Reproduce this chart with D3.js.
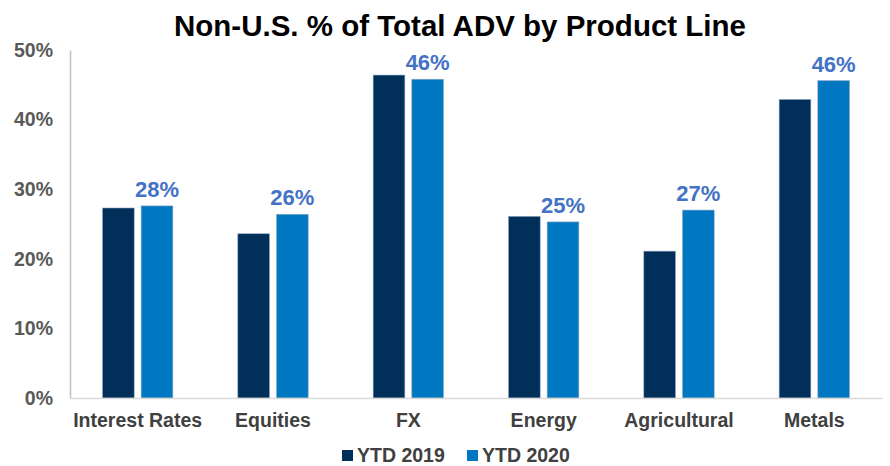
<!DOCTYPE html>
<html>
<head>
<meta charset="utf-8">
<script src="https://cdn.jsdelivr.net/npm/d3@7"></script>
<style>
  body { margin: 0; background: #fff; }
  svg { font-family: "Liberation Sans", Arial, sans-serif; font-weight: bold; }
</style>
</head>
<body>
<div id="chart"></div>
<script>
const width = 890;
const height = 466;

const categories = ["Interest Rates", "Equities", "FX", "Energy", "Agricultural", "Metals"];
const seriesNames = ["YTD 2019", "YTD 2020"];
const ytd2019 = [0.273, 0.236, 0.464, 0.261, 0.211, 0.429];
const ytd2020 = [0.276, 0.264, 0.458, 0.253, 0.270, 0.456];
const labels2020 = ["28%", "26%", "46%", "25%", "27%", "46%"];
const yTicks = [0, 0.1, 0.2, 0.3, 0.4, 0.5];

const colors = ["#00305A", "#0078C1"];

const margin = { top: 50, right: 8, bottom: 68, left: 70 };

const data = categories.map((c, i) => ({
  cat: c,
  values: [ytd2019[i], ytd2020[i]],
  label: labels2020[i]
}));

const svg = d3.select("#chart").append("svg")
  .attr("width", width)
  .attr("height", height);

const x0 = d3.scaleBand()
  .domain(categories)
  .range([margin.left, width - margin.right])
  .paddingInner(0.48)
  .paddingOuter(0.24);

const x1 = d3.scaleBand()
  .domain(seriesNames)
  .range([0, x0.bandwidth()])
  .paddingInner(0.18);

const y = d3.scaleLinear()
  .domain([0, 0.5])
  .range([height - margin.bottom, margin.top]);

// title
svg.append("text")
  .attr("x", 460)
  .attr("y", 36)
  .attr("text-anchor", "middle")
  .attr("font-size", 29.5)
  .attr("fill", "#000")
  .text("Non-U.S. % of Total ADV by Product Line");

// y axis
const yAxis = svg.append("g")
  .attr("transform", `translate(${margin.left},0)`)
  .call(d3.axisLeft(y).tickValues(yTicks).tickFormat(d3.format(".0%")).tickSize(0).tickPadding(17));
yAxis.select(".domain").attr("stroke", "#BFBFBF").attr("stroke-width", 1.5);
yAxis.selectAll("text")
  .attr("font-size", 19.5)
  .attr("font-family", "Liberation Sans, Arial, sans-serif")
  .attr("font-weight", "bold")
  .attr("fill", "#595959");

// bars
const groups = svg.append("g").selectAll("g")
  .data(data)
  .join("g")
  .attr("transform", d => `translate(${x0(d.cat)},0)`);

groups.selectAll("rect")
  .data(d => d.values.map((v, i) => ({ key: seriesNames[i], value: v, i })))
  .join("rect")
  .attr("x", d => x1(d.key))
  .attr("y", d => y(d.value))
  .attr("width", x1.bandwidth())
  .attr("height", d => y(0) - y(d.value))
  .attr("fill", d => colors[d.i])
  .attr("stroke", "#8FA9C4")
  .attr("stroke-width", 0.6);

groups.append("text")
  .attr("x", x1("YTD 2020") + x1.bandwidth() / 2)
  .attr("y", d => y(d.values[1]) - 9)
  .attr("text-anchor", "middle")
  .attr("font-size", 22)
  .attr("fill", "#4472C4")
  .text(d => d.label);

// x axis
const xAxis = svg.append("g")
  .attr("transform", `translate(0,${y(0)})`)
  .call(d3.axisBottom(x0).tickSize(0).tickPadding(15));
xAxis.select(".domain").attr("stroke", "#D9D9D9").attr("stroke-width", 1.5);
xAxis.selectAll("text")
  .attr("font-size", 19.5)
  .attr("font-family", "Liberation Sans, Arial, sans-serif")
  .attr("font-weight", "bold")
  .attr("fill", "#404040");

// legend
const legend = svg.append("g");
const legendX = [342, 467];
seriesNames.forEach((s, i) => {
  legend.append("rect")
    .attr("x", legendX[i])
    .attr("y", 450)
    .attr("width", 11)
    .attr("height", 11)
    .attr("fill", colors[i]);
  legend.append("text")
    .attr("x", legendX[i] + 15)
    .attr("y", 462)
    .attr("font-size", 19.5)
    .attr("fill", "#404040")
    .text(s);
});
</script>
</body>
</html>
